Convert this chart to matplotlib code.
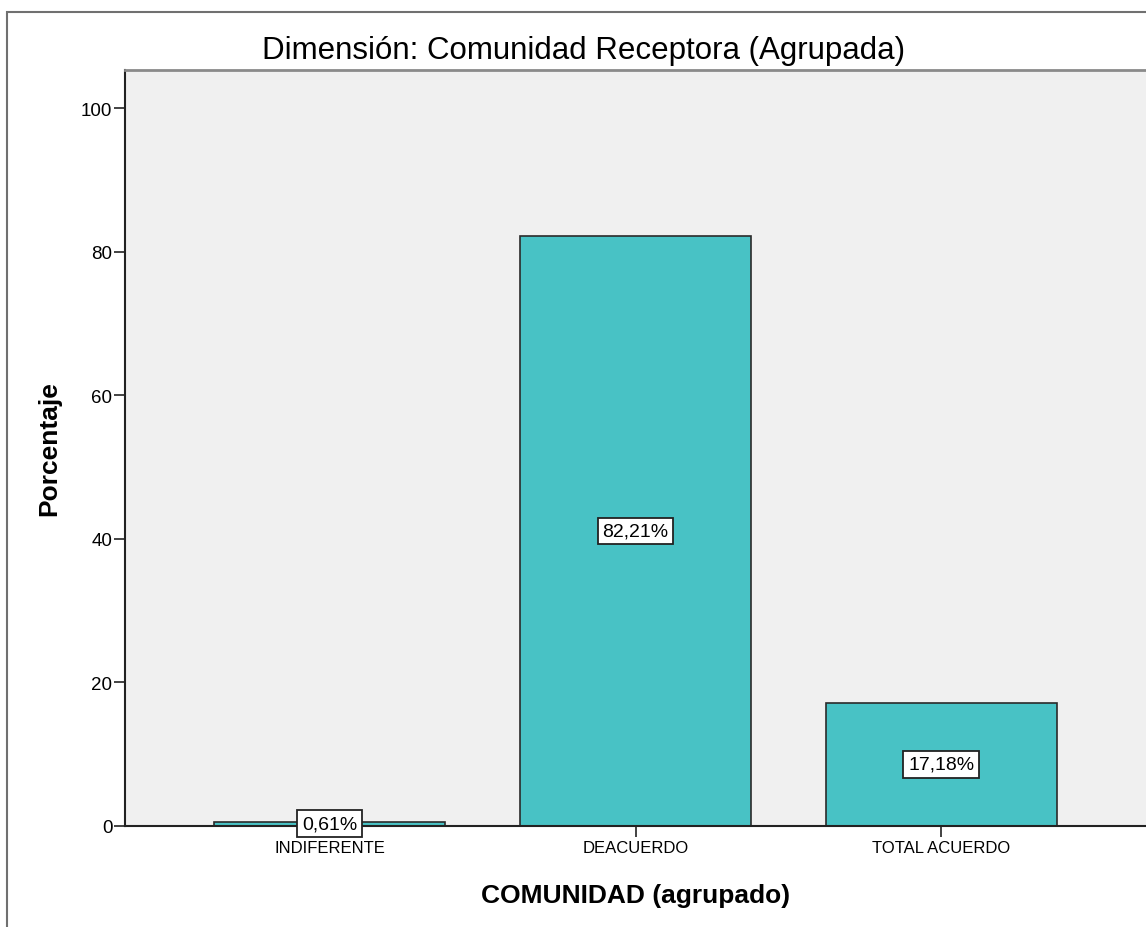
import matplotlib.pyplot as plt
from matplotlib.patches import Rectangle

plt.rcParams['font.family'] = ['Liberation Sans', 'DejaVu Sans']

CATEGORIES = ['INDIFERENTE', 'DEACUERDO', 'TOTAL ACUERDO']
PERCENTS   = [0.61, 82.21, 17.18]
LABELS     = ['0,61%', '82,21%', '17,18%']

BAR_COLOR  = '#48C2C5'
BG_COLOR   = '#F0F0F0'

W, H = 1146, 928
fig = plt.figure(figsize=(W / 100, H / 100), dpi=100)
ax = fig.add_axes([125 / W, (H - 827) / H, (W - 125) / W, (827 - 71) / H])
ax.set_facecolor(BG_COLOR)

x = list(range(len(CATEGORIES)))
ax.bar(x, PERCENTS, width=0.755, color=BAR_COLOR, edgecolor='#2a2a2a',
       linewidth=1.2, zorder=2)

for xi, v, lab in zip(x, PERCENTS, LABELS):
    ax.text(xi, v / 2, lab, ha='center', va='center', fontsize=14, zorder=4,
            bbox=dict(boxstyle='square,pad=0.25', facecolor='white',
                      edgecolor='#222222', linewidth=1.3))

ax.set_xlim(-0.67, 2.67)
ax.set_ylim(0, 105.3)
ax.set_yticks([0, 20, 40, 60, 80, 100])
ax.set_xticks(x)
ax.set_xticklabels(CATEGORIES, fontsize=12)
ax.tick_params(axis='y', labelsize=13.5, length=8, width=1.2, color='#222222', pad=1)
ax.tick_params(axis='x', length=8, width=1.2, color='#222222', pad=2)

ax.spines['right'].set_visible(False)
ax.spines['top'].set_color('#8a8a8a')
ax.spines['top'].set_linewidth(2)
ax.spines['left'].set_color('#222222')
ax.spines['left'].set_linewidth(1.5)
ax.spines['bottom'].set_color('#222222')
ax.spines['bottom'].set_linewidth(1.5)

ax.set_xlabel('COMUNIDAD (agrupado)', fontsize=19, fontweight='bold', labelpad=20)
ax.set_ylabel('Porcentaje', fontsize=19, fontweight='bold', labelpad=14)
fig.text(584 / W, 1 - 51 / H, 'Dimensión: Comunidad Receptora (Agrupada)',
         ha='center', va='center', fontsize=22.5)

# outer frame of the chart window
fig.patches.append(Rectangle((7 / W, -0.1), 1.2, 1 - 13 / H + 0.1,
                             transform=fig.transFigure, fill=False,
                             edgecolor='#707070', linewidth=1.5, clip_on=False))

fig.savefig('out.png', dpi=100)
